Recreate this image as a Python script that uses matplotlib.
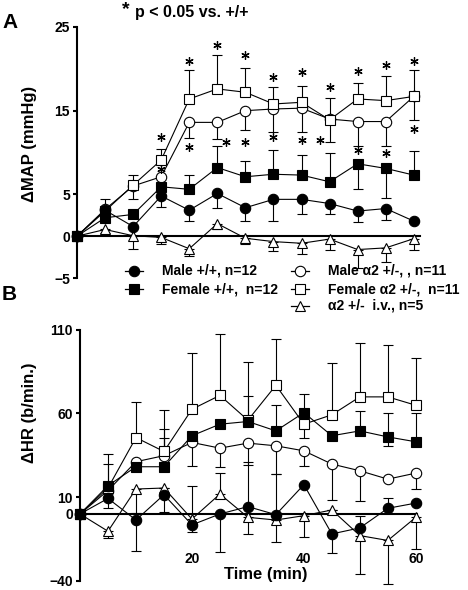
import matplotlib.pyplot as plt
from matplotlib.lines import Line2D
import numpy as np

plt.rcParams['font.family'] = ['Liberation Sans', 'DejaVu Sans']
plt.rcParams['font.weight'] = 'bold'

time = [0, 5, 10, 15, 20, 25, 30, 35, 40, 45, 50, 55, 60]

# panel A : delta MAP (mmHg)
map_male_wt = [0, 3.1, 1.15, 4.8, 3.1, 5.1, 3.4, 4.4, 4.4, 3.9, 3.0, 3.3, 1.8]
map_male_wt_lo = [0, 0, 0, 1.3, 1.3, 1.7, 1.6, 2.6, 1.8, 1.2, 1.3, 1.4, 0]
map_male_wt_hi = [0, 1.3, 0, 0, 0, 0, 0, 0, 0, 0, 0, 0, 0]
map_female_wt = [0, 2.2, 2.6, 5.9, 5.6, 8.2, 7.1, 7.4, 7.3, 6.5, 8.65, 8.1, 7.3]
map_female_wt_lo = [0, 0, 0, 0, 0, 0, 0, 0, 0, 0, 3.05, 3.5, 0]
map_female_wt_hi = [0, 0, 0, 0, 1.7, 2.55, 1.9, 2.95, 2.45, 3.5, 0, 0, 2.85]
map_male_a2 = [0, 3.2, 6.0, 7.1, 13.6, 13.6, 15.0, 15.2, 15.3, 14.0, 13.7, 13.7, 16.7]
map_male_a2_lo = [0, 0, 1.6, 0, 1.85, 2.0, 2.35, 2.7, 2.8, 2.8, 2.9, 2.95, 2.8]
map_male_a2_hi = [0] * 13
map_female_a2 = [0, 3.0, 6.1, 9.1, 16.4, 17.6, 17.2, 15.8, 16.0, 13.9, 16.4, 16.2, 16.7]
map_female_a2_lo = [0] * 13
map_female_a2_hi = [0, 0, 1.2, 1.3, 3.5, 4.0, 2.9, 2.0, 2.0, 2.6, 1.9, 2.9, 3.2]
map_iv = [0, 0.8, 0.05, -0.15, -1.5, 1.5, -0.25, -0.65, -0.85, -0.35, -1.6, -1.4, -0.3]
map_iv_lo = [0, 0.45, 1.55, 0.8, 0.9, 0.6, 0.7, 1.1, 1.25, 1.25, 2.25, 1.65, 1.3]
map_iv_hi = [0] * 13

# significance stars in panel A
star_hi_t = [15, 20, 25, 30, 35, 40, 45, 50, 55, 60]
star_hi_y = [11.9, 20.9, 22.9, 21.7, 19.0, 19.6, 17.8, 19.7, 20.4, 20.9]
star_lo_t = [15, 20, 26.6, 30, 35, 40, 43.3, 50, 55, 60]
star_lo_y = [8.0, 10.7, 11.3, 11.3, 11.9, 11.5, 11.5, 10.3, 10.0, 12.8]

# panel B : delta HR (b/min.)
hr_male_wt = [0, 9.3, -3.6, 11.5, -6.5, 0, 4.4, -0.4, 17.5, -11.9, -8.3, 3.4, 6.5]
hr_male_wt_lo = [0, 5.7, 18.2, 10.5, 4.4, 22.8, 0, 0, 0, 11.5, 0, 0, 0]
hr_male_wt_hi = [0, 0, 0, 0, 0, 0, 26.4, 24.2, 0, 0, 7.3, 6.1, 0]
hr_female_wt = [0, 16.9, 28.2, 28.2, 46.7, 53.6, 55.2, 49.6, 60.5, 46.7, 49.6, 46.0, 43.1]
hr_female_wt_lo = [0, 0, 0, 0, 0, 0, 0, 0, 0, 0, 0, 5.3, 0]
hr_female_wt_hi = [0, 18.8, 0, 17.0, 0, 0, 15.4, 15.3, 11.3, 0, 11.9, 14.1, 17.4]
hr_male_a2 = [0, 14.0, 31.2, 34.8, 42.7, 39.3, 42.3, 40.7, 37.7, 29.8, 25.8, 20.8, 24.4]
hr_male_a2_lo = [0, 0, 0, 0, 14.3, 11.1, 12.9, 16.9, 9.0, 21.5, 17.8, 0, 9.5]
hr_male_a2_hi = [0, 0, 0, 15.8, 0, 0, 0, 0, 0, 0, 0, 0, 0]
hr_female_a2 = [0, 15.5, 45.6, 37.3, 62.5, 70.8, 56.0, 76.8, 53.6, 59.2, 69.9, 69.9, 64.9]
hr_female_a2_lo = [0, 0, 0, 0, 0, 0, 0, 0, 8.5, 0, 0, 0, 0]
hr_female_a2_hi = [0, 14.3, 21.4, 24.8, 33.7, 36.8, 34.7, 27.8, 0, 31.1, 32.3, 30.9, 28.0]
hr_iv = [0, -10.3, 14.9, 15.5, -3.0, 11.9, -2.0, -3.6, -1.0, 2.4, -12.9, -15.8, -2.0]
hr_iv_lo = [0, 4.0, 14.5, 0, 0, 0, 9.9, 13.2, 12.9, 0, 23.1, 25.9, 18.8]
hr_iv_hi = [0, 0, 0, 0, 19.9, 12.5, 0, 0, 0, 0, 0, 0, 0]

labels = ['Male +/+, n=12', 'Female +/+,  n=12', 'Male \u03b12 +/-, , n=11',
          'Female \u03b12 +/-,  n=11', '\u03b12 +/-  i.v., n=5']
markers = ['o', 's', 'o', 's', '^']
faces = ['k', 'k', 'w', 'w', 'w']
draw_order = [4, 2, 3, 0, 1]

fig = plt.figure(figsize=(4.68, 5.9), dpi=100)
axA = fig.add_axes([77/468, 312/590, 348/468, 251/590])
axB = fig.add_axes([80/468, 9/590, 347/468, 251.3/590])

panelA = [(map_male_wt, map_male_wt_lo, map_male_wt_hi),
          (map_female_wt, map_female_wt_lo, map_female_wt_hi),
          (map_male_a2, map_male_a2_lo, map_male_a2_hi),
          (map_female_a2, map_female_a2_lo, map_female_a2_hi),
          (map_iv, map_iv_lo, map_iv_hi)]
panelB = [(hr_male_wt, hr_male_wt_lo, hr_male_wt_hi),
          (hr_female_wt, hr_female_wt_lo, hr_female_wt_hi),
          (hr_male_a2, hr_male_a2_lo, hr_male_a2_hi),
          (hr_female_a2, hr_female_a2_lo, hr_female_a2_hi),
          (hr_iv, hr_iv_lo, hr_iv_hi)]

for ax, data in [(axA, panelA), (axB, panelB)]:
    for y, lo, hi in data:
        ax.errorbar(time, y, yerr=[lo, hi], fmt='none', ecolor='k',
                    elinewidth=0.8, capsize=3.5, capthick=0.8, zorder=2, clip_on=False)
    for n, i in enumerate(draw_order):
        ax.plot(time, data[i][0], color='k', lw=0.8, marker=markers[i], ms=7.5,
                mfc=faces[i], mec='k', mew=0.8, zorder=3 + n, clip_on=False)
    for s in ['top', 'right', 'bottom']:
        ax.spines[s].set_visible(False)
    ax.spines['left'].set_linewidth(1.5)
    ax.set_xlim(0, 62)
    ax.tick_params(axis='y', direction='out', length=3, width=1.5, pad=2, labelsize=10)

axA.axhline(0, xmax=0.985, color='k', lw=1.5, zorder=2.5)
axB.axhline(0, xmax=0.97, color='k', lw=1.5, zorder=2.5)

axA.plot(star_hi_t, star_hi_y, ls='none', marker=(6, 2, 0), ms=6, mew=0.9, color='k', zorder=10)
axA.plot(star_lo_t, star_lo_y, ls='none', marker=(6, 2, 0), ms=6, mew=0.9, color='k', zorder=10)

axA.set_ylim(-5, 25)
axA.set_yticks([-5, 0, 5, 15, 25])
axA.set_xticks([])
axA.set_ylabel('\u0394MAP (mmHg)', fontsize=12, fontweight='bold')
axA.yaxis.set_label_coords(-0.116, 0.534)

axB.set_ylim(-40, 110)
axB.set_yticks([-40, 0, 10, 60, 110])
axB.set_xticks([20, 40, 60])
axB.tick_params(axis='x', length=0, pad=-21, labelsize=10)
axB.set_ylabel('\u0394HR (b/min.)', fontsize=12, fontweight='bold')
axB.yaxis.set_label_coords(-0.125, 0.67)
axB.set_xlabel('Time (min)', fontsize=12, fontweight='bold')
axB.xaxis.set_label_coords(0.536, 0.055)

fig.text(2/468, 1 - 23/590, 'A', fontsize=15, fontweight='bold', va='center', ha='left')
fig.text(2/468, 1 - 295/590, 'B', fontsize=15, fontweight='bold', va='center', ha='left')
fig.text(135/468, 1 - 17/590, 'p < 0.05 vs. +/+', fontsize=11.5, fontweight='bold', va='baseline')
fig.text(122/468, 1 - 1/590, '*', fontsize=14, fontweight='bold', va='top')

# legend drawn by hand (two columns)
leg_x = [134, 134, 300, 300, 300]
leg_y = [270.7, 289.3, 270.7, 289.3, 305.7]
for i in range(5):
    xc, yc = leg_x[i] / 468, 1 - leg_y[i] / 590
    fig.add_artist(Line2D([xc - 9/468, xc + 9/468], [yc, yc], color='k', lw=0.9))
    fig.add_artist(Line2D([xc], [yc], marker=markers[i], ms=7.5, mfc=faces[i], mec='k', mew=0.8))
    fig.text(xc + 28/468, yc, labels[i], fontsize=10, fontweight='bold', va='center', ha='left')

fig.savefig('out.png', dpi=100)
